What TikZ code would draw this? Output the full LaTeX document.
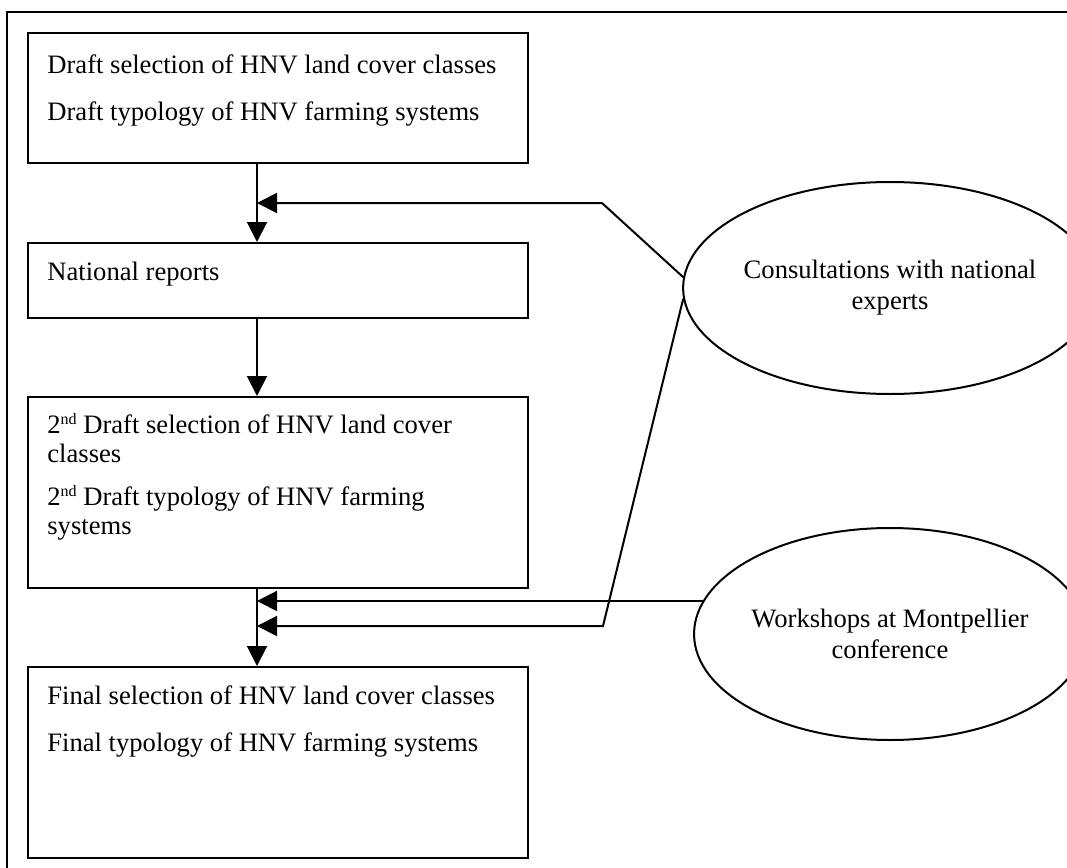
\documentclass[tikz,border=0pt]{standalone}
\usepackage{fontspec}
\setmainfont{Liberation Serif}
\usetikzlibrary{shapes.geometric, arrows.meta, positioning, calc}

\newcommand{\ordnd}{\raisebox{0.32em}{\fontsize{8}{9}\selectfont nd}}

\begin{document}
\begin{tikzpicture}[
    x=0.5pt, y=-0.5pt,
    every node/.style={font=\fontsize{13.3}{14.5}\selectfont},
    stage/.style={draw, line width=1pt, minimum width=250pt, anchor=north west, inner sep=0pt},
    stagetext/.style={anchor=north west, inner sep=0pt, align=left},
    input/.style={ellipse, draw, line width=1pt, minimum width=172pt, minimum height=106pt, inner sep=0pt, align=center, font=\fontsize{13.3}{15.5}\selectfont},
    flow/.style={line width=1pt, -{Triangle[length=10pt, width=10pt]}},
    link/.style={line width=1pt}
  ]
    \useasboundingbox (0,0) rectangle (1067,868);

    % Outer frame
    \draw[link] (7,868) -- (7,12) -- (1067,12);

    % Stages
    \node[stage, minimum height=65pt] (b1) at (27,32) {};
    \node[stage, minimum height=37.5pt] (b2) at (27,242) {};
    \node[stage, minimum height=95.5pt] (b3) at (27,396) {};
    \node[stage, minimum height=95.5pt] (b4) at (27,666) {};

    \node[stagetext] (t1) at ([shift={(20,22)}]b1.north west)
      {Draft selection of HNV land cover classes\\[9pt]
       Draft typology of HNV farming systems};
    \node[stagetext] (t2) at ([shift={(20,20)}]b2.north west) {National reports};
    \node[stagetext] (t3) at ([shift={(20,17)}]b3.north west)
      {2\ordnd{} Draft selection of HNV land cover\\
       classes\\[7pt]
       2\ordnd{} Draft typology of HNV farming\\
       systems};
    \node[stagetext] (t4) at ([shift={(20,19)}]b4.north west)
      {Final selection of HNV land cover classes\\[9pt]
       Final typology of HNV farming systems};

    % Inputs
    \node[input] (c1) at (890,288) {Consultations with national\\experts};
    \node[input] (c2) at (890,634) {Workshops at Montpellier\\conference};

    % Main flow
    \coordinate (spine) at (257,0);
    \draw[flow] (b1.south -| spine) -- (b2.north -| spine);
    \draw[flow] (b2.south -| spine) -- (b3.north -| spine);
    \draw[flow] (b3.south -| spine) -- (b4.north -| spine);

    % Feedback
    \coordinate (k1) at (602,203);
    \coordinate (k2) at (603,626);
    \draw[flow] (c1.177) -- (k1) -- (k1 -| spine);
    \draw[flow] (c1.183) -- (k2) -- (k2 -| spine);
    \draw[flow] (c2.170) -- (c2.170 -| spine);
  \end{tikzpicture}
\end{document}
